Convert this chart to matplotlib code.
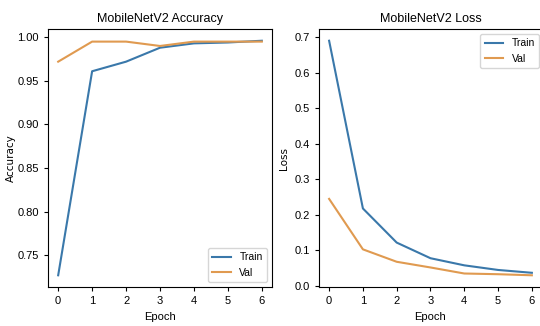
import matplotlib
matplotlib.use("Agg")
import matplotlib.pyplot as plt

epochs = [0, 1, 2, 3, 4, 5, 6]
acc_train = [0.727, 0.961, 0.972, 0.988, 0.993, 0.994, 0.996]
acc_val = [0.972, 0.995, 0.995, 0.990, 0.995, 0.995, 0.995]
loss_train = [0.690, 0.218, 0.122, 0.078, 0.058, 0.045, 0.037]
loss_val = [0.245, 0.103, 0.068, 0.052, 0.035, 0.033, 0.030]

plt.rcParams['font.family'] = ['Liberation Sans', 'DejaVu Sans']

blue = "#3a78aa"
orange = "#e09a50"

fig = plt.figure(figsize=(5.4, 3.26), dpi=100)
ax1 = fig.add_axes([0.0889, 0.1196, 0.4148, 0.7914])
ax2 = fig.add_axes([0.5907, 0.1196, 0.4130, 0.7914])

ax1.plot(epochs, acc_train, color=blue, label="Train", lw=1.5)
ax1.plot(epochs, acc_val, color=orange, label="Val", lw=1.5)
ax1.set_title("MobileNetV2 Accuracy", fontsize=9, pad=5)
ax1.set_xlabel("Epoch", fontsize=8, labelpad=4)
ax1.set_ylabel("Accuracy", fontsize=7.5, family="DejaVu Sans", labelpad=1)
ax1.legend(loc="lower right", fontsize=7.5, handlelength=1.8)

ax2.plot(epochs, loss_train, color=blue, label="Train", lw=1.5)
ax2.plot(epochs, loss_val, color=orange, label="Val", lw=1.5)
ax2.set_title("MobileNetV2 Loss", fontsize=9, pad=5)
ax2.set_xlabel("Epoch", fontsize=8, labelpad=4)
ax2.set_ylabel("Loss", fontsize=7.5, family="DejaVu Sans", labelpad=4)
ax2.legend(loc="upper right", fontsize=7.5, handlelength=1.8, bbox_to_anchor=(1.01, 1.0))

for ax in (ax1, ax2):
    ax.set_xticks(epochs)
    ax.tick_params(labelsize=8, length=3)

fig.savefig("out.png", dpi=100)
